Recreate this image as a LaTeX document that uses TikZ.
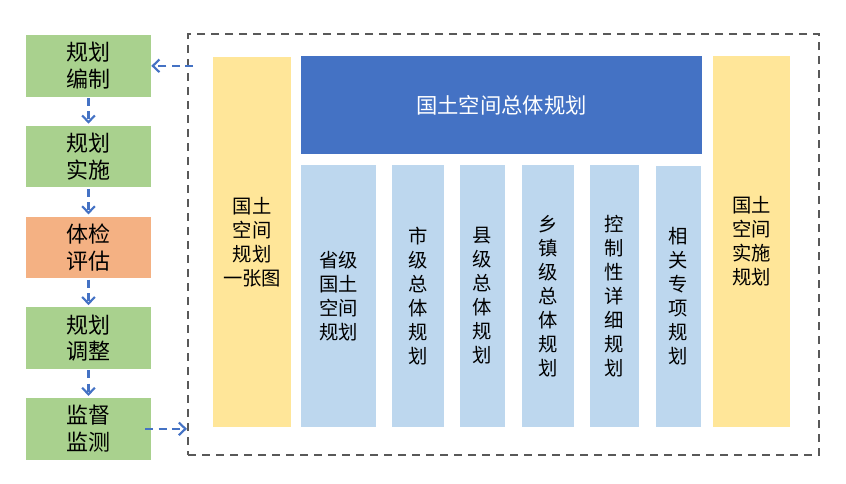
\documentclass[tikz,border=0pt]{standalone}
\usepackage{fontspec}
\setmainfont{Noto Sans CJK SC}
\usepackage{tikz}
\usetikzlibrary{arrows.meta}
\definecolor{StageGreen}{HTML}{A9D18E}
\definecolor{StageOrange}{HTML}{F4B183}
\definecolor{PlanBlue}{HTML}{4472C4}
\definecolor{PlanLight}{HTML}{BDD7EE}
\definecolor{PlanYellow}{HTML}{FFE699}
\definecolor{FrameGray}{HTML}{595959}

\begin{document}
\begin{tikzpicture}[x=0.75pt, y=-0.75pt,
		every node/.style={inner sep=0pt, align=center},
		stage/.style={fill=StageGreen, minimum width=93.75pt, minimum height=46pt, font=\fontsize{16.5pt}{20pt}\selectfont},
		column/.style={fill=PlanLight, minimum height=196.5pt, font=\fontsize{14.5pt}{18pt}\selectfont},
		sidebar/.style={fill=PlanYellow, minimum height=277.5pt, font=\fontsize{14.5pt}{18pt}\selectfont},
		flow/.style={draw=PlanBlue, line width=1.6pt, dash pattern=on 6pt off 4pt, -{Straight Barb[length=5pt,width=9.5pt]}}]
		\useasboundingbox (0,0) rectangle (846,483);
		% planning cycle
		\node[stage] (bz) at (88.5,65.85) {规划\\编制};
		\node[stage] (ss) at (88.5,156.6) {规划\\实施};
		\node[stage, fill=StageOrange] (tj) at (88.5,247.35) {体检\\评估};
		\node[stage] (tz) at (88.5,338.1) {规划\\调整};
		\node[stage] (jc) at (88.5,428.85) {监督\\监测};
		\foreach \a/\b in {bz/ss, ss/tj, tj/tz, tz/jc}
			\draw[flow, shorten <=1pt, shorten >=1.5pt] (\a) -- (\b);
		% planning system
		\node[draw=FrameGray, line width=1.5pt, dash pattern=on 6pt off 4.5pt, minimum width=473.25pt, minimum height=315.75pt] (frame) at (503.5,244.5) {};
		\node[sidebar] (yzt) at (252,242) [minimum width=58.5pt] {国土\\空间\\规划\\一张图};
		\node[fill=PlanBlue, text=white, minimum width=300.75pt, minimum height=73.3pt, font=\fontsize{16pt}{20pt}\selectfont] (zt) at (501.5,104.85) {国土空间总体规划};
		\node[column, minimum width=56.25pt] (sj) at (338.5,296) {省级\\国土\\空间\\规划};
		\node[column, minimum width=39pt] (shi) at (418,296) {市\\级\\总\\体\\规\\划};
		\node[column, minimum width=33.75pt] (xian) at (482.5,296) {县\\级\\总\\体\\规\\划};
		\node[column, minimum width=39pt] (xz) at (548,296) {乡\\镇\\级\\总\\体\\规\\划};
		\node[column, minimum width=36.75pt] (kg) at (614.5,296) {控\\制\\性\\详\\细\\规\\划};
		\node[column, minimum width=33.75pt, minimum height=195.75pt] (zx) at (678.5,296.5) {相\\关\\专\\项\\规\\划};
		\node[sidebar, minimum width=57.75pt, minimum height=278.25pt] (sshi) at (751.5,241.5) {国土\\空间\\实施\\规划};
		% feedback
		\coordinate (fin) at (frame.west |- bz.east);
		\coordinate (fout) at (frame.west |- jc.east);
		\draw[flow] ([xshift=4.5pt]fin) -- (bz.east);
		\draw[flow] ([xshift=-4.5pt]jc.east) -- (fout);
	\end{tikzpicture}
\end{document}
